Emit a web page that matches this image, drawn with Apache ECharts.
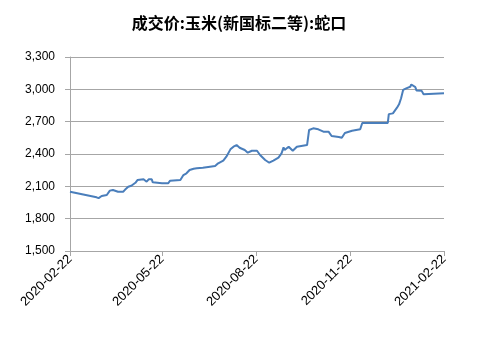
<!DOCTYPE html>
<html><head><meta charset="utf-8">
<script src="https://cdn.jsdelivr.net/npm/echarts@6/dist/echarts.min.js"></script>
<style>html,body{margin:0;padding:0;background:#fff}#c{width:478px;height:338px}</style>
</head><body><div id="c"></div>
<script>
const titleText = '成交价:玉米(新国标二等):蛇口';
const dates = ['2020-02-22','2020-03-19','2020-03-21','2020-03-24','2020-03-29','2020-04-01','2020-04-04','2020-04-09','2020-04-14','2020-04-16','2020-04-19','2020-04-22','2020-04-26','2020-04-28','2020-05-04','2020-05-07','2020-05-09','2020-05-12','2020-05-13','2020-05-22','2020-05-28','2020-05-30','2020-06-09','2020-06-12','2020-06-15','2020-06-18','2020-06-22','2020-06-25','2020-07-01','2020-07-08','2020-07-13','2020-07-16','2020-07-21','2020-07-24','2020-07-28','2020-07-31','2020-08-03','2020-08-06','2020-08-11','2020-08-14','2020-08-18','2020-08-23','2020-08-26','2020-08-31','2020-09-04','2020-09-08','2020-09-13','2020-09-16','2020-09-18','2020-09-19','2020-09-23','2020-09-27','2020-10-01','2020-10-11','2020-10-13','2020-10-17','2020-10-22','2020-10-27','2020-11-01','2020-11-04','2020-11-11','2020-11-14','2020-11-17','2020-11-24','2020-12-02','2020-12-04','2020-12-29','2020-12-30','2021-01-03','2021-01-07','2021-01-09','2021-01-11','2021-01-13','2021-01-16','2021-01-20','2021-01-21','2021-01-25','2021-01-26','2021-01-31','2021-02-02','2021-02-03','2021-02-22'];
const prices = [2050,1998,1990,2010,2020,2060,2066,2050,2050,2070,2096,2105,2133,2158,2165,2143,2165,2165,2137,2128,2128,2152,2158,2205,2221,2251,2263,2267,2273,2282,2288,2314,2338,2375,2443,2468,2483,2458,2437,2412,2430,2430,2391,2344,2319,2338,2366,2406,2462,2437,2468,2430,2468,2483,2623,2638,2629,2607,2607,2567,2558,2551,2595,2616,2629,2688,2688,2770,2777,2830,2861,2917,2994,3009,3024,3045,3020,2990,2988,2955,2963,2963];
const xTickLabels = ['2020-02-22','2020-05-22','2020-08-22','2020-11-22','2021-02-22'];
const yMin = 1500, yMax = 3300, yStep = 300;

const ts = s => new Date(s + 'T00:00:00').getTime();
const pad = n => (n < 10 ? '0' : '') + n;
const fmt = v => { const d = new Date(v); return d.getFullYear() + '-' + pad(d.getMonth() + 1) + '-' + pad(d.getDate()); };
const tickVals = xTickLabels.map(ts);

const chart = echarts.init(document.getElementById('c'), null, {renderer: 'canvas'});
chart.setOption({
  animation: false,
  backgroundColor: '#fff',
  title: {
    text: titleText, left: 'center', top: 10,
    textStyle: {fontFamily: 'Noto Sans CJK SC', fontSize: 16, fontWeight: 'bold', color: '#000'}
  },
  grid: {left: 70, right: 34, top: 57, bottom: 87, containLabel: false},
  xAxis: {
    type: 'value', min: tickVals[0], max: tickVals[tickVals.length - 1],
    axisLine: {show: true, lineStyle: {color: '#a6a6a6', width: 1}},
    axisTick: {show: true, length: 5, lineStyle: {color: '#a6a6a6'}, customValues: tickVals},
    axisLabel: {
      customValues: tickVals, rotate: 45, formatter: v => fmt(v),
      fontFamily: 'Liberation Sans', fontSize: 13, color: '#000', margin: 6
    },
    splitLine: {show: false}
  },
  yAxis: {
    type: 'value', min: yMin, max: yMax, interval: yStep,
    axisLine: {show: true, lineStyle: {color: '#a6a6a6', width: 1}},
    axisTick: {show: true, length: 5, lineStyle: {color: '#a6a6a6'}},
    axisLabel: {formatter: v => v.toLocaleString('en-US'), fontFamily: 'Liberation Sans', fontSize: 12, color: '#000', margin: 15},
    splitLine: {show: true, lineStyle: {color: '#a6a6a6', width: 1}}
  },
  series: [{
    type: 'line', showSymbol: false, symbol: 'none',
    data: dates.map((d, i) => [ts(d), prices[i]]),
    lineStyle: {color: '#4a7ebb', width: 2}
  }]
});
</script></body></html>
